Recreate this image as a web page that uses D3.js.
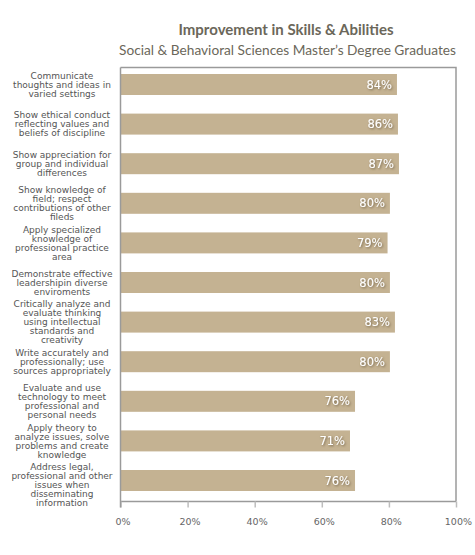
<!DOCTYPE html>
<html>
<head>
<meta charset="utf-8">
<script src="https://cdn.jsdelivr.net/npm/d3@7"></script>
<style>
  html, body { margin: 0; padding: 0; background: #fff; }
  svg { display: block; }
</style>
</head>
<body>
<svg id="chart" width="475" height="555"></svg>
<script>
// ---- data ----
const titleText = "Improvement in Skills & Abilities";
const subtitleText = "Social & Behavioral Sciences Master\u2019s Degree Graduates";
const categories = [
  ["Communicate", "thoughts and ideas in", "varied settings"],
  ["Show ethical conduct", "reflecting values and", "beliefs of discipline"],
  ["Show appreciation for", "group and individual", "differences"],
  ["Show knowledge of", "field; respect", "contributions of other", "fileds"],
  ["Apply specialized", "knowledge of", "professional practice", "area"],
  ["Demonstrate effective", "leadershipin diverse", "enviroments"],
  ["Critically analyze and", "evaluate thinking", "using intellectual", "standards and", "creativity"],
  ["Write accurately and", "professionally; use", "sources appropriately"],
  ["Evaluate and use", "technology to meet", "professional and", "personal needs"],
  ["Apply theory to", "analyze issues, solve", "problems and create", "knowledge"],
  ["Address legal,", "professional and other", "issues when", "disseminating", "information"]
];
// bar lengths as drawn in the picture (fraction of 100%)
const barValues = [0.824, 0.827, 0.830, 0.803, 0.796, 0.803, 0.818, 0.803, 0.699, 0.684, 0.699];
// printed value labels
const valueLabels = ["84%", "86%", "87%", "80%", "79%", "80%", "83%", "80%", "76%", "71%", "76%"];
const xTicks = [0, 0.2, 0.4, 0.6, 0.8, 1.0];

// ---- layout ----
const svg = d3.select("#chart");
const plot = { left: 120.5, right: 456, top: 67.5, bottom: 501.5 };
const barTop = 74, barBottom = 491;

const x = d3.scaleLinear().domain([0, 1]).range([plot.left, plot.right]);
const y = d3.scaleBand().domain(d3.range(categories.length))
  .range([barTop, barBottom]).paddingInner(0.47).paddingOuter(0);

// shadow filter for value labels
const defs = svg.append("defs");
const f = defs.append("filter").attr("id", "shadow").attr("x", "-20%").attr("y", "-30%").attr("width", "150%").attr("height", "170%");
f.append("feDropShadow").attr("dx", 1).attr("dy", 1).attr("stdDeviation", 0.8)
  .attr("flood-color", "#5a4a30").attr("flood-opacity", 0.75);

// title
svg.append("text").attr("x", 286).attr("y", 35).attr("text-anchor", "middle")
  .style("font-family", "Lato, 'Open Sans', sans-serif").style("font-weight", 700)
  .style("font-size", "15px").style("fill", "#6b675a").text(titleText);
svg.append("text").attr("x", 287.5).attr("y", 55).attr("text-anchor", "middle")
  .style("font-family", "Lato, 'Open Sans', sans-serif").style("font-weight", 400)
  .style("font-size", "13.7px").style("fill", "#6b675a").text(subtitleText);

// frame (top & right)
const frameColor = "#9a9a9a";
svg.append("path")
  .attr("d", `M${plot.left},${plot.top}H${plot.right}V${plot.bottom}`)
  .attr("fill", "none").attr("stroke", frameColor).attr("stroke-width", 1.5);

// bars
svg.append("g").selectAll("rect").data(barValues).join("rect")
  .attr("x", x(0)).attr("y", (d, i) => y(i))
  .attr("width", d => x(d) - x(0)).attr("height", y.bandwidth())
  .attr("fill", "#c4b292");

// value labels
svg.append("g").selectAll("text").data(barValues).join("text")
  .attr("x", d => x(d) - 5).attr("y", (d, i) => y(i) + y.bandwidth() / 2)
  .attr("dy", "0.36em").attr("text-anchor", "end")
  .style("font-family", "'DejaVu Sans', Verdana, sans-serif").style("font-size", "11.5px")
  .style("fill", "#fff").attr("filter", "url(#shadow)")
  .text((d, i) => valueLabels[i]);

// x axis
const xAxis = d3.axisBottom(x).tickValues(xTicks).tickFormat(d3.format(".0%")).tickSize(6).tickPadding(11);
const gx = svg.append("g").attr("transform", `translate(0,${plot.bottom})`).call(xAxis);
gx.select(".domain").attr("stroke", frameColor).attr("stroke-width", 1.5).attr("d", `M${plot.left},0H${plot.right}`);
gx.selectAll(".tick line").attr("stroke", "#bdbdbd").attr("stroke-width", 1.5);
gx.selectAll(".tick text").style("font-family", "'DejaVu Sans', Verdana, sans-serif")
  .style("font-size", "9.5px").style("fill", "#666").attr("dx", "0.2em");

// y axis line
const yAxis = d3.axisLeft(y).tickSize(0).tickFormat("");
const gy = svg.append("g").attr("transform", `translate(${plot.left},0)`).call(yAxis);
gy.select(".domain").attr("stroke", frameColor).attr("stroke-width", 1.5)
  .attr("d", `M0,${plot.top}V${plot.bottom + 6}`);

// category labels: centred on each bar, pushed down if they would collide with the one above
const lineH = 9, minGap = 12.5;
let prevLast = -Infinity;
const starts = categories.map((lines, i) => {
  const cy = y(i) + y.bandwidth() / 2;
  let s = cy - (lines.length - 1) * lineH / 2;
  if (s < prevLast + minGap) s = prevLast + minGap;
  prevLast = s + (lines.length - 1) * lineH;
  return s;
});
const lab = svg.append("g").selectAll("text").data(categories).join("text")
  .attr("text-anchor", "middle")
  .style("font-family", "'DejaVu Sans', Verdana, sans-serif").style("font-size", "9px")
  .style("fill", "#555");
lab.each(function (lines, i) {
  d3.select(this).selectAll("tspan").data(lines).join("tspan")
    .attr("x", 62).attr("y", (d, k) => starts[i] + k * lineH).attr("dy", "0.35em")
    .text(d => d);
});
</script>
</body>
</html>
